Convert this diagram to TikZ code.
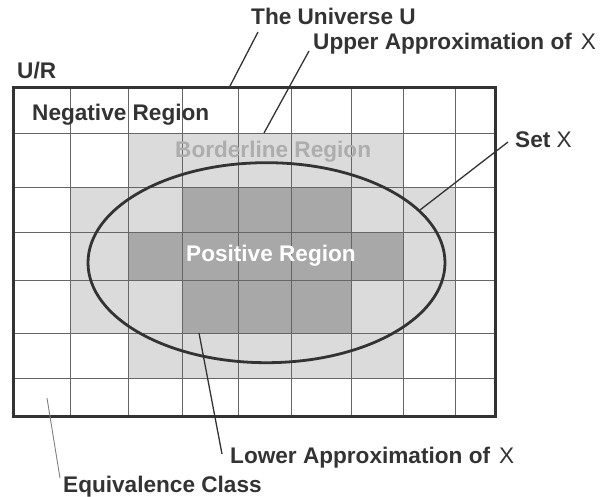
\documentclass[tikz,border=0pt]{standalone}
\usepackage{fontspec}
\setmainfont{Liberation Sans}
\definecolor{lightcell}{gray}{0.86}
\definecolor{darkcell}{gray}{0.66}
\definecolor{gridcol}{gray}{0.4}
\definecolor{ink}{gray}{0.2}
\definecolor{bordertext}{gray}{0.68}
\begin{document}
\begin{tikzpicture}[x=1pt,y=-1pt,
  lbl/.style={font=\fontsize{22.6}{26}\selectfont\bfseries, text=ink, inner sep=0pt, anchor=base west},
  conn/.style={draw=ink, line width=1.3pt},
  gridline/.style={draw=gridcol, line width=0.9pt}]
\useasboundingbox (0,0) rectangle (603,497);
% shaded cells
\fill[lightcell] (128,133) rectangle (403,187);
\fill[lightcell] (70,187) rectangle (455,333);
\fill[lightcell] (128,333) rectangle (403,378);
\fill[darkcell] (182,187) rectangle (351,232);
\fill[darkcell] (128,232) rectangle (403,280);
\fill[darkcell] (182,280) rectangle (351,333);
% grid
\foreach \x in {70,128,182,238,291.5,351,403,455} \draw[gridline] (\x,88) -- (\x,416);
\foreach \y in {133,187,232,280,333,378} \draw[gridline] (13.5,\y) -- (495,\y);
\draw[ink, line width=3pt] (13.5,88) rectangle (495,416);
% set X
\draw[ink, line width=2.8pt] (266.5,262.7) ellipse [x radius=178.5, y radius=100];
% texts
\node[lbl] (ur) at (17,79) {U/R};
\node[lbl] (univ) at (251,25) {The Universe U};
\node[lbl] (upper) at (313,50) {Upper Approximation of\hspace{0.4em}{\mdseries X}};
\node[lbl] (neg) at (32,121) {Negative Region};
\node[lbl, text=bordertext] (border) at (175,158) {Borderline Region};
\node[lbl] (setx) at (515,148) {Set {\mdseries X}};
\node[lbl, text=white] (pos) at (186,262) {Positive Region};
\node[lbl] (lower) at (230,463) {Lower Approximation of\hspace{0.4em}{\mdseries X}};
\node[lbl] (equiv) at (63,492) {Equivalence Class};
% connector endpoints
\coordinate (univA) at (258,32);
\coordinate (univB) at (229,88);
\coordinate (upA) at (309,51);
\coordinate (upB) at (264,133);
\coordinate (setA) at (508,142);
\coordinate (setB) at (420,210);
\coordinate (lowA) at (222,454);
\coordinate (lowB) at (199,333);
\coordinate (eqA) at (60,478);
\coordinate (eqB) at (47,398);
\draw[conn] (univA) -- (univB);
\draw[conn] (upA) -- (upB);
\draw[conn] (setA) -- (setB);
\draw[conn] (lowA) -- (lowB);
\draw[draw=gray, line width=0.9pt] (eqA) -- (eqB);
\end{tikzpicture}
\end{document}
